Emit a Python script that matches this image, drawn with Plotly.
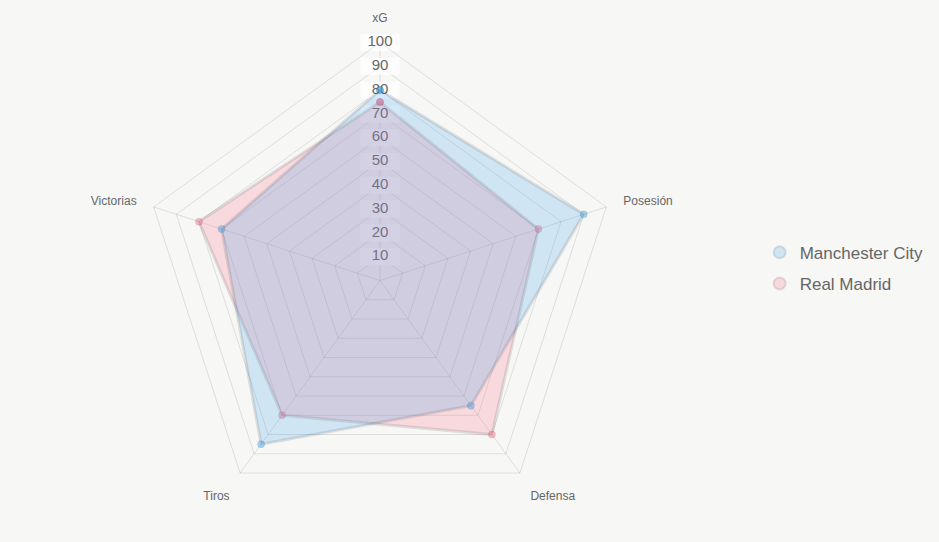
import plotly.graph_objects as go

categories = ["xG", "Posesión", "Defensa", "Tiros", "Victorias"]
city_values = [80, 90, 65, 85, 70]
madrid_values = [75, 70, 80, 70, 80]
tick_values = [10, 20, 30, 40, 50, 60, 70, 80, 90, 100]
tick_labels = [str(v) for v in tick_values]
series_names = ["Manchester City", "Real Madrid"]

W, H = 939, 542
BG = "#f7f7f5"
GRID = "rgba(0,0,0,0.1)"
TXT = "#666666"
FONT = "Liberation Sans, Arial, Helvetica, sans-serif"

fills = ["rgba(54,162,235,0.2)", "rgba(255,99,132,0.2)"]
points = ["rgba(54,162,235,0.4)", "rgba(255,99,132,0.4)"]

fig = go.Figure()

# radial tick labels with backdrop, centred on the vertical axis (drawn beneath the datasets)
fig.add_trace(go.Scatterpolar(
    r=tick_values, theta=[categories[0]] * len(tick_values),
    mode="markers+text", text=tick_labels, textposition="middle center",
    textfont=dict(size=15, color=TXT, family=FONT),
    marker=dict(symbol="line-ew", size=28, color="rgba(255,255,255,0.75)",
                line=dict(color="rgba(255,255,255,0.75)", width=17)),
    showlegend=False, hoverinfo="skip", cliponaxis=False,
))

# datasets drawn in reverse order so the first series sits on top
series = list(zip(series_names, [city_values, madrid_values], fills, points))
for name, vals, fc, pc in reversed(series):
    fig.add_trace(go.Scatterpolar(
        r=vals + vals[:1], theta=categories + categories[:1],
        mode="lines+markers", fill="toself", fillcolor=fc,
        line=dict(color="rgba(0,0,0,0.1)", width=3),
        marker=dict(size=7, color=pc, line=dict(color="rgba(0,0,0,0.1)", width=1)),
        name=name, showlegend=False, hoverinfo="skip",
    ))

# legend entries
for i, (name, fc) in enumerate(zip(series_names, fills)):
    fig.add_trace(go.Scatterpolar(
        r=[None], theta=[categories[0]], mode="markers", name=name,
        legendgroup=f"g{i}",
        marker=dict(symbol="circle", size=16, color=fc,
                    line=dict(color="rgba(0,0,0,0.1)", width=1)),
    ))

fig.update_layout(
    width=W, height=H, autosize=False,
    margin=dict(l=0, r=0, t=0, b=0),
    paper_bgcolor=BG, plot_bgcolor=BG,
    font=dict(family=FONT, color=TXT),
    polar=dict(
        bgcolor=BG,
        gridshape="linear",
        domain=dict(x=[142 / W, 618 / W], y=[23.5 / H, 499.5 / H]),
        radialaxis=dict(range=[0, 100], tickvals=tick_values, showticklabels=False,
                        ticks="", showline=False, gridcolor=GRID, gridwidth=1, angle=90),
        angularaxis=dict(categoryorder="array", categoryarray=categories,
                         rotation=90, direction="clockwise",
                         showline=True, linecolor=GRID, gridcolor=GRID,
                         ticks="outside", ticklen=15, tickcolor="rgba(0,0,0,0)",
                         tickfont=dict(size=12, color=TXT, family=FONT)),
    ),
    legend=dict(x=0.809, y=0.505, xanchor="left", yanchor="middle",
                font=dict(size=17, color=TXT, family=FONT),
                bgcolor="rgba(0,0,0,0)", tracegroupgap=6, itemsizing="constant"),
)

fig.write_html("out.html")
